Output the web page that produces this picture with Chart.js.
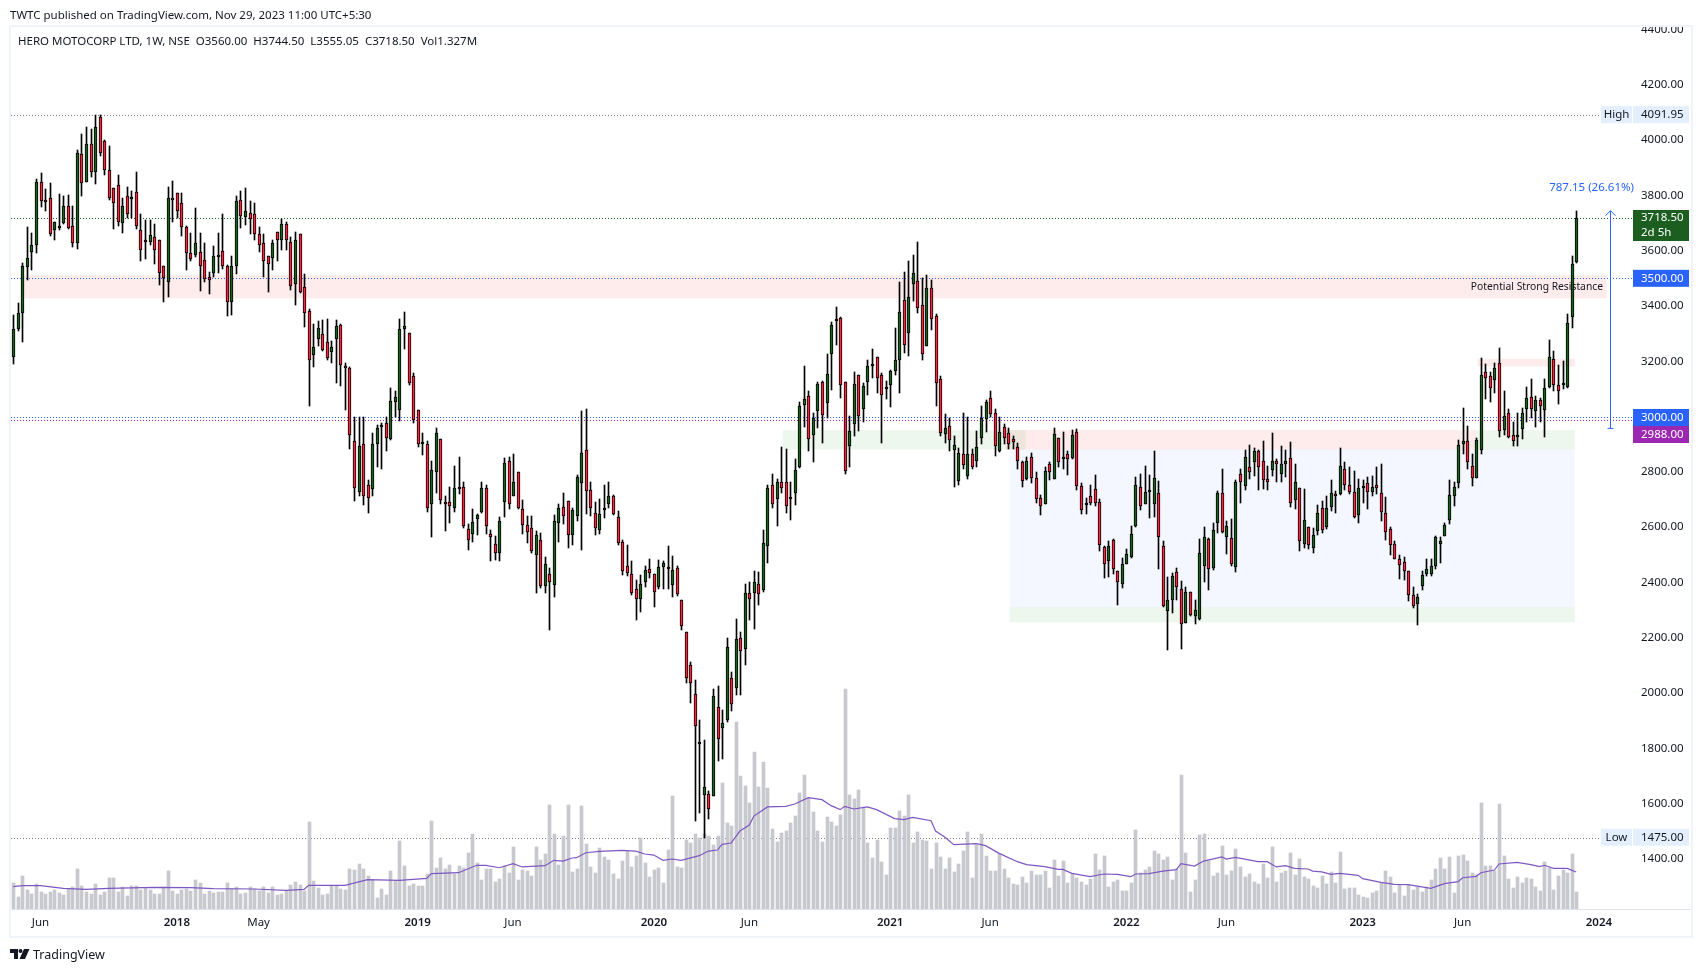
<!DOCTYPE html>
<html><head><meta charset="utf-8">
<style>html,body{margin:0;padding:0;background:#fff}canvas{display:block}</style>
<script src="https://cdn.jsdelivr.net/npm/chart.js@4/dist/chart.umd.min.js"></script>
</head><body><canvas id="c" width="1704" height="972"></canvas>
<script>
const opens=[3216,3316,3375,3541,3596,3622,3850,3785,3789,3675,
3682,3699,3760,3691,3629,3951,3850,3987,3886,4085,
3998,3893,3825,3839,3701,3799,3787,3814,3676,3640,
3632,3651,3637,3546,3488,3792,3810,3774,3687,3593,
3585,3597,3568,3503,3520,3578,3600,3546,3416,3546,
3785,3722,3738,3731,3662,3626,3579,3572,3669,3637,
3695,3633,3481,3662,3467,3383,3224,3279,3300,3268,
3232,3282,3333,3181,3176,2913,2729,2901,2751,2738,
2902,2964,2975,2918,3051,3024,3318,3302,3145,3022,
2902,2902,2682,2801,2918,2692,2692,2669,2747,2747,
2594,2575,2631,2655,2743,2576,2540,2507,2692,2841,
2714,2798,2667,2609,2598,2499,2554,2387,2431,2391,
2616,2674,2696,2573,2642,2758,2878,2736,2652,2591,
2663,2685,2714,2638,2547,2460,2431,2376,2340,2402,
2449,2431,2384,2456,2456,2391,2453,2336,2220,2100,
1995,1817,1631,1635,1628,1951,1875,1904,2053,2017,
2198,2158,2362,2362,2394,2371,2533,2754,2703,2765,
2762,2707,2722,2816,3041,3074,2932,3020,3125,3049,
3228,3347,3356,3125,2894,2973,3150,3027,3125,3183,
3215,3150,3100,3114,3165,3204,3421,3302,3478,3489,
3403,3257,3464,3363,3136,2937,2966,2880,2768,2865,
2786,2865,2840,2923,2991,3067,3013,2876,2962,2941,
2919,2890,2836,2775,2854,2779,2706,2685,2829,2775,
2923,2847,2865,2851,2944,2750,2681,2714,2739,2692,
2530,2479,2555,2443,2396,2468,2493,2604,2746,2685,
2728,2685,2724,2533,2295,2338,2439,2378,2255,2364,
2277,2268,2459,2558,2452,2616,2725,2565,2562,2457,
2791,2749,2816,2834,2876,2838,2774,2807,2838,2791,
2830,2849,2700,2743,2540,2602,2526,2587,2671,2601,
2674,2718,2720,2812,2754,2729,2645,2740,2758,2729,
2754,2725,2653,2595,2540,2486,2475,2442,2354,2321,
2386,2429,2429,2459,2540,2568,2626,2713,2759,2902,
2910,2823,2778,2878,3161,3146,3132,3193,2953,3012,
2932,2927,2954,3029,3070,3019,3059,3023,3106,3208,
3114,3114,3106,3360,3560];
const highs=[3367,3412,3555,3684,3663,3858,3880,3822,3846,3705,
3804,3797,3801,3762,3963,4021,4047,4039,4092,4092,
4000,3978,3825,3873,3790,3829,3815,3883,3731,3711,
3711,3696,3637,3546,3829,3851,3810,3808,3688,3663,
3754,3663,3627,3522,3616,3663,3731,3549,3579,3796,
3815,3826,3779,3774,3684,3660,3579,3638,3669,3714,
3702,3651,3669,3662,3517,3388,3334,3345,3349,3352,
3275,3349,3336,3193,3181,2999,2999,2999,2769,2942,
2969,2978,3000,3105,3094,3352,3380,3302,3159,3024,
2939,2913,2841,2960,2918,2714,2747,2823,2852,2765,
2610,2667,2646,2762,2751,2590,2569,2638,2849,2852,
2863,2798,2700,2642,2642,2587,2580,2493,2453,2645,
2682,2725,2696,2671,2787,3019,3027,2762,2692,2703,
2751,2762,2718,2660,2554,2536,2478,2409,2427,2460,
2485,2431,2482,2478,2533,2496,2460,2336,2220,2111,
2049,1904,1831,1646,2013,2024,1940,2198,2075,2269,
2220,2394,2402,2442,2438,2591,2751,2791,2776,2889,
2881,2762,2845,3052,3184,3092,3013,3125,3128,3226,
3341,3395,3359,3125,3001,3161,3150,3121,3204,3244,
3215,3157,3128,3168,3321,3486,3523,3561,3583,3630,
3500,3511,3494,3370,3147,3009,2995,2930,2887,3013,
3000,2883,2949,3038,3060,3092,3027,3000,2973,2959,
2930,2905,2840,2852,2869,2800,2718,2818,2836,2959,
2923,2944,2876,2952,2955,2761,2706,2753,2789,2703,
2533,2551,2558,2443,2490,2522,2605,2783,2793,2822,
2789,2876,2768,2551,2418,2436,2454,2407,2385,2367,
2335,2556,2602,2562,2616,2730,2812,2622,2631,2769,
2812,2880,2897,2885,2880,2912,2820,2941,2846,2893,
2880,2907,2827,2743,2737,2602,2598,2679,2696,2713,
2770,2732,2886,2834,2816,2803,2774,2770,2781,2786,
2817,2828,2708,2602,2549,2498,2493,2442,2384,2360,
2442,2486,2486,2568,2566,2616,2770,2762,2914,3030,
2967,2863,2921,3212,3191,3161,3193,3248,3093,3026,
2979,3012,3030,3106,3137,3074,3066,3135,3277,3237,
3185,3201,3371,3582,3744.5];
const lows=[3189,3309,3270,3494,3529,3592,3758,3743,3654,3638,
3675,3696,3678,3613,3605,3797,3849,3866,3840,3943,
3873,3784,3678,3690,3664,3720,3720,3678,3562,3569,
3620,3551,3475,3415,3433,3704,3720,3654,3529,3562,
3578,3453,3487,3443,3504,3519,3533,3363,3367,3515,
3681,3692,3660,3639,3594,3504,3450,3529,3564,3602,
3602,3457,3403,3446,3323,3039,3179,3254,3236,3205,
3193,3121,3111,3023,2882,2694,2713,2679,2650,2712,
2817,2810,2876,2914,3000,2984,3244,3115,2976,2889,
2860,2655,2564,2723,2683,2585,2616,2654,2719,2596,
2519,2548,2570,2650,2577,2479,2483,2479,2636,2667,
2711,2665,2574,2543,2507,2363,2380,2363,2229,2348,
2548,2611,2523,2534,2623,2516,2649,2639,2570,2574,
2632,2668,2643,2534,2427,2424,2353,2265,2294,2384,
2416,2312,2376,2376,2376,2348,2352,2229,2037,1963,
1536,1565,1475,1543,1627,1754,1760,1897,1934,1992,
1992,2101,2265,2232,2319,2367,2472,2671,2606,2725,
2650,2625,2679,2815,2964,2874,2837,2960,2906,2996,
3097,3260,3068,2794,2819,2928,2949,2982,3079,3140,
3086,2906,3065,3036,3151,3086,3231,3220,3418,3375,
3205,3255,3314,3039,2931,2906,2874,2747,2751,2812,
2773,2809,2819,2899,2946,3000,2859,2871,2902,2881,
2883,2812,2747,2771,2758,2686,2643,2682,2769,2773,
2819,2809,2787,2847,2733,2646,2646,2679,2675,2513,
2415,2419,2430,2318,2379,2466,2490,2601,2661,2682,
2632,2635,2448,2311,2156,2288,2336,2159,2252,2277,
2249,2265,2403,2374,2445,2580,2580,2503,2459,2437,
2686,2734,2776,2786,2734,2737,2734,2786,2762,2762,
2780,2673,2667,2512,2523,2520,2505,2573,2580,2593,
2657,2650,2717,2735,2719,2633,2614,2689,2665,2713,
2719,2624,2553,2499,2484,2414,2408,2332,2307,2247,
2374,2423,2423,2447,2469,2568,2611,2677,2742,2864,
2810,2749,2778,2866,3062,3054,3086,2927,2933,2922,
2895,2895,2919,2982,2995,2964,2982,2927,3103,3091,
3047,3100,3105,3322,3555.05];
const closes=[3318,3376,3543,3572,3619,3850,3781,3776,3661,3702,
3688,3760,3682,3629,3955,3843,3987,3883,4049,3954,
3890,3791,3773,3705,3763,3733,3793,3690,3603,3632,
3655,3603,3520,3502,3792,3784,3745,3687,3590,3570,
3626,3546,3496,3494,3579,3586,3546,3416,3543,3781,
3727,3742,3713,3662,3619,3561,3553,3626,3637,3695,
3637,3474,3637,3452,3376,3206,3253,3322,3242,3212,
3253,3329,3188,3177,2935,2743,2895,2714,2707,2899,
2957,2964,2921,3058,3069,3315,3326,3123,2988,2902,
2902,2671,2808,2942,2700,2682,2677,2743,2738,2604,
2554,2620,2643,2743,2605,2565,2507,2623,2831,2682,
2765,2669,2609,2583,2513,2573,2386,2467,2402,2623,
2671,2642,2573,2663,2780,2867,2732,2671,2598,2649,
2671,2711,2649,2543,2442,2434,2362,2340,2394,2445,
2434,2365,2456,2471,2449,2445,2358,2242,2053,2038,
1882,1817,1660,1580,1991,1835,1893,2166,1962,2195,
2151,2362,2340,2402,2358,2543,2740,2682,2765,2743,
2678,2703,2805,3038,3063,2919,2995,3118,3006,3154,
3330,3352,3113,2804,2948,3118,3002,3110,3183,3190,
3139,3078,3107,3165,3204,3377,3258,3431,3518,3392,
3226,3464,3352,3121,2941,2959,2916,2898,2869,2825,
2865,2818,2890,2995,3053,3009,2894,2944,2923,2901,
2908,2840,2768,2840,2779,2703,2678,2804,2800,2937,
2836,2851,2847,2934,2750,2663,2681,2688,2688,2537,
2468,2533,2450,2400,2468,2504,2577,2753,2678,2728,
2728,2779,2566,2316,2338,2425,2385,2248,2367,2281,
2302,2507,2566,2449,2591,2722,2584,2605,2465,2763,
2764,2852,2800,2874,2818,2772,2764,2840,2830,2827,
2840,2689,2765,2551,2627,2536,2573,2653,2591,2671,
2725,2711,2823,2754,2728,2638,2740,2743,2729,2747,
2740,2656,2584,2536,2486,2463,2442,2354,2314,2349,
2428,2449,2460,2563,2549,2609,2716,2747,2896,2913,
2834,2778,2914,3150,3138,3105,3175,2947,3001,2927,
2913,2928,3012,3066,3026,3059,3040,3103,3215,3114,
3092,3117,3339,3553,3718.5];
const volumes=[2.03,.94,2.57,1.48,1.17,1.95,1.33,1.17,1.33,1.48,
1.25,1.09,1.56,1.72,3.12,1.79,1.33,1.17,1.95,1.09,
1.33,2.42,2.42,1.33,1.72,1.01,1.79,1.79,1.48,1.64,
1.48,1.17,1.17,1.72,2.96,1.40,1.17,1.48,1.56,1.40,
2.26,2.03,1.17,1.40,1.25,1.33,1.33,2.03,1.56,1.72,
1.17,1.25,1.72,1.56,1.40,1.72,1.25,1.72,1.09,1.17,
1.40,1.87,2.11,1.87,1.40,6.79,2.18,1.64,1.09,1.17,
1.79,1.79,1.56,1.48,3.12,3.04,3.51,3.12,2.57,2.26,
.86,1.56,1.09,2.96,2.18,5.30,3.35,1.79,1.95,1.79,
1.79,2.73,6.86,3.20,3.98,3.12,3.43,2.73,3.35,3.20,
4.37,5.85,3.59,2.26,3.12,3.12,2.11,2.34,3.35,2.81,
4.84,2.26,3.04,2.96,2.57,4.84,3.82,4.29,8.11,5.85,
3.43,5.69,8.11,2.89,3.12,8.03,5.07,3.28,2.81,4.76,
4.06,3.82,2.73,2.34,3.74,4.52,3.28,4.13,5.54,3.59,
2.50,3.04,3.20,2.03,4.60,8.81,3.28,3.20,5.38,5.15,
5.85,5.54,5.85,5.69,4.99,5.69,9.83,6.71,6.47,14.59,
10.37,9.59,8.27,12.25,9.52,11.47,9.44,6.24,5.23,5.93,
6.08,6.71,7.25,9.05,10.45,8.66,7.57,6.08,5.23,7.18,
6.79,6.47,7.33,17.16,8.89,8.58,9.28,7.96,5.15,3.98,
5.38,3.67,2.65,6.32,6.32,7.64,7.25,8.89,5.15,6.01,
5.38,5.30,3.12,5.15,4.06,3.12,3.98,2.89,3.51,4.52,
6.01,2.42,4.99,5.85,4.13,2.96,2.96,4.29,3.12,2.42,
1.95,1.87,2.50,2.03,2.96,2.65,2.65,2.96,1.64,3.82,
2.57,3.74,2.03,2.73,2.42,2.11,1.87,2.34,4.29,3.04,
4.13,1.72,2.11,2.26,1.40,1.40,2.03,6.16,2.81,3.04,
3.28,4.52,4.29,3.82,4.06,2.26,3.12,10.45,4.37,1.33,
2.26,5.77,5.85,3.74,2.57,2.81,4.91,2.65,2.96,4.68,
3.28,2.50,2.73,2.11,1.95,3.51,2.42,4.84,2.11,2.81,
2.96,4.37,2.65,3.90,2.50,2.34,1.79,1.64,2.57,1.95,
2.89,2.03,4.45,1.56,1.64,1.64,1.09,.94,.86,1.25,
1.40,2.03,2.96,2.50,1.25,1.87,1.01,1.87,1.48,1.72,
1.33,1.72,2.26,3.12,3.98,3.12,4.06,1.25,4.13,4.21,
3.74,2.81,2.65,8.27,3.35,3.35,2.96,8.19,4.13,2.34,
1.64,2.50,2.03,2.42,2.34,1.72,1.40,3.67,3.20,1.48,
2.57,3.04,2.81,4.29,1.327];
const maBars=[1,3,7,12,17,22,32,40,45,54,61,65,66,74,79,86,92,93,99,103,105,108,111,113,118,120,122,124,125,127,130,135,138,140,142,144,146,148,152,154,156,157,159,161,163,164,167,171,173,176,179,181,183,184,186,189,191,195,197,199,203,204,206,208,213,215,218,222,224,228,231,232,234,238,241,244,247,248,251,254,257,258,261,263,267,268,270,275,277,279,281,283,286,287,289,291,293,297,298,302,305,308,313,316,319,320,323,324,327,328,332,335,337,338,340,343,345];
const maVals=[1.74,1.82,1.82,1.61,1.53,1.61,1.69,1.66,1.59,1.56,1.46,1.53,1.85,1.85,2.29,2.24,2.39,2.76,2.83,3.41,3.41,3.22,3.54,3.28,3.38,3.80,3.74,3.98,4.00,4.39,4.50,4.58,4.52,4.29,4.21,3.80,3.90,3.80,4.16,4.52,4.60,5.04,5.15,6.11,6.55,7.25,7.96,8.01,8.19,8.68,8.53,8.06,7.75,8.01,7.80,7.96,7.75,7.05,6.97,7.15,6.89,6.08,5.62,5.02,5.10,4.94,4.34,3.69,3.46,3.30,3.09,3.09,2.78,2.52,2.73,2.70,2.52,2.73,2.76,2.96,3.07,3.54,3.35,3.74,4.06,3.90,4.03,3.69,3.69,3.28,3.38,3.17,3.12,2.96,2.89,2.70,2.78,2.63,2.37,2.08,1.92,1.90,1.61,1.98,2.13,2.44,2.55,2.83,3.04,3.51,3.64,3.46,3.30,3.41,3.17,3.17,2.89];
const tickBars=[6,36,54,89,110,141,162,193,215,245,267,297,319,349];
const tickTexts=['Jun','2018','May','2019','Jun','2020','Jun','2021','Jun','2022','Jun','2023','Jun','2024'];
const priceTicks=[1400,1600,1800,2000,2200,2400,2600,2800,3000,3200,3400,3600,3800,4000,4200,4400];
const SLOTS=357;
const categories=Array.from({length:SLOTS},()=> '');
tickBars.forEach((b,k)=>{categories[b]=tickTexts[k];});
const maSeries=opens.map(()=>null);
maBars.forEach((b,k)=>{maSeries[b-1]=maVals[k];});

const UP='#1b5e20',DOWN='#f7253e',FONT='"Noto Sans",sans-serif',INK='#131722',SZ='11.5px ';
const RED='rgba(242,54,69,0.10)',GREEN='rgba(76,175,80,0.10)',BLUE='rgba(41,98,255,0.05)';
// zones: from bar, to bar, upper price, lower price
const zoneFrom=[2.35,169.4,218.4,219.3,219.3,322,322.3];
const zoneTo=[350.7,222.8,322,343.7,343.7,343.7,343.7];
const zoneTop=[3511,2951,2951,2880,2311,2951,3209];
const zoneBottom=[3428,2881,2880,2311,2256,2880,3181];
const zoneColors=[RED,GREEN,RED,BLUE,GREEN,GREEN,RED];
// horizontal dotted price levels
const levelPrices=[4091.95,3718.5,3500,3000,2988,1475];
const levelColors=['#787b86','#1b5e20','#2962ff','#2962ff','#9c27b0','#787b86'];

// keep the bars on whole pixels so wicks and borders stay crisp
const drawBar=Chart.BarElement.prototype.draw;
Chart.BarElement.prototype.draw=function(ctx){
  const {x,y,base}=this;
  this.x=Math.round(x)+.5;this.y=Math.round(y);this.base=Math.round(base);
  drawBar.call(this,ctx);
  this.x=x;this.y=y;this.base=base;
};

const overlays={id:'overlays',
 beforeDatasetsDraw(ch){
  const g=ch.ctx,x=ch.scales.x,y=ch.scales.y,a=ch.chartArea;
  g.save();
  zoneFrom.forEach((f,k)=>{
    const l=x.getPixelForValue(f),r=x.getPixelForValue(zoneTo[k]);
    const t=y.getPixelForValue(zoneTop[k]),b=y.getPixelForValue(zoneBottom[k]);
    g.fillStyle=zoneColors[k];g.fillRect(l,t,r-l,b-t);
  });
  g.lineWidth=1;g.setLineDash([1,2]);
  levelPrices.forEach((p,k)=>{
    const py=Math.round(y.getPixelForValue(p))+.5;
    g.strokeStyle=levelColors[k];g.beginPath();g.moveTo(a.left,py);g.lineTo(a.right,py);g.stroke();
  });
  g.setLineDash([]);
  g.fillStyle=INK;g.font='10.3px '+FONT;g.textBaseline='middle';g.textAlign='right';
  g.fillText('Potential Strong Resistance',1603,y.getPixelForValue(3469));
  g.restore();
 },
 afterDraw(ch){
  const g=ch.ctx,x=ch.scales.x,y=ch.scales.y;
  g.save();
  // frame
  g.strokeStyle='#f0f3fa';g.lineWidth=2;g.strokeRect(10,26,1682,911);
  g.strokeStyle='#e0e3eb';g.lineWidth=1;g.beginPath();g.moveTo(11,909.5);g.lineTo(1691,909.5);g.stroke();
  // measure arrow
  const ax=Math.round(x.getPixelForValue(351.4))+.5,t=y.getPixelForValue(3744.5),b=y.getPixelForValue(2957.35);
  g.strokeStyle='#2962ff';g.lineWidth=1;g.beginPath();g.moveTo(ax,t);g.lineTo(ax,b);
  g.moveTo(ax-3,b);g.lineTo(ax+3,b);g.moveTo(ax-5,t+5);g.lineTo(ax,t);g.lineTo(ax+5,t+5);g.stroke();
  g.textBaseline='middle';g.font=SZ+FONT;
  g.fillStyle='#2962ff';g.textAlign='right';g.fillText('787.15 (26.61%)',1634,188);
  // axis badges
  const badge=(cy,h,fill,txt,col,txt2)=>{
    g.fillStyle=fill;g.fillRect(1633,cy,56,h);
    g.fillStyle=col;g.textAlign='left';g.font=SZ+FONT;
    g.fillText(txt,1641,txt2?cy+8:cy+h/2+.5);
    if(txt2){g.fillText(txt2,1641,cy+23);}
  };
  const side=(cy,txt)=>{g.fillStyle='#e3effd';g.fillRect(1601,cy,31,17);g.fillStyle=INK;g.textAlign='center';g.font=SZ+FONT;g.fillText(txt,1616.5,cy+9);};
  side(y.getPixelForValue(4091.95)-8.5,'High');
  badge(y.getPixelForValue(4091.95)-8.5,17,'#e3effd','4091.95',INK);
  side(y.getPixelForValue(1475)-9.5,'Low');
  badge(y.getPixelForValue(1475)-9.5,17,'#e3effd','1475.00',INK);
  badge(210,31,UP,'3718.50','#fff','2d 5h');
  badge(y.getPixelForValue(3500)-8.5,17,'#2962ff','3500.00','#fff');
  badge(409,17,'#2962ff','3000.00','#fff');
  badge(426,17,'#9c27b0','2988.00','#fff');
  // header + footer
  g.fillStyle=INK;g.textAlign='left';g.font=SZ+FONT;
  g.fillText('TWTC published on TradingView.com, Nov 29, 2023 11:00 UTC+5:30',10,15.5);
  g.fillText('HERO MOTOCORP LTD, 1W, NSE  O3560.00  H3744.50  L3555.05  C3718.50  Vol1.327M',18,42);
  g.font='12.5px '+FONT;g.fillText('TradingView',33,955);
  // logo
  g.fillStyle='#131722';
  g.fillRect(10,949,8,4);g.fillRect(14,949,4,10);
  g.beginPath();g.arc(20.5,951,2,0,7);g.fill();
  g.beginPath();g.moveTo(24,949);g.lineTo(29.5,949);g.lineTo(25,959);g.lineTo(19.5,959);g.closePath();g.fill();
  g.restore();
 }
};

new Chart(document.getElementById('c'),{
 type:'bar',
 data:{labels:categories,datasets:[
  {label:'Volume',data:volumes,yAxisID:'v',backgroundColor:'#c8c9ce',barThickness:3,grouped:false,order:5},
  {type:'line',label:'Volume MA',data:maSeries,yAxisID:'v',borderColor:'#7e57c2',borderWidth:1.2,pointRadius:0,spanGaps:true,tension:0,order:4},
  {label:'Range',data:lows.map((l,i)=>[l,highs[i]]),yAxisID:'y',backgroundColor:'#000',barThickness:1,grouped:false,order:2},
  {label:'Body',data:opens.map((o,i)=>[o,closes[i]]),yAxisID:'y',
   backgroundColor:opens.map((o,i)=>closes[i]>=o?UP:DOWN),borderColor:'#000',borderWidth:1,borderSkipped:false,
   barThickness:3,grouped:false,minBarLength:2,order:1}
 ]},
 options:{responsive:false,animation:false,devicePixelRatio:1,
  layout:{padding:{left:11,top:27,right:12,bottom:35}},
  plugins:{legend:{display:false},tooltip:{enabled:false}},
  scales:{
   x:{type:'category',offset:true,grid:{display:false,drawTicks:false},border:{display:false},
      afterFit(s){s.height=28;},
      ticks:{autoSkip:false,maxRotation:0,minRotation:0,padding:7,color:INK,
             font:c=>({family:FONT,size:11.5,weight:/^\d/.test(c.tick&&c.tick.label||'')?'600':'400'})}},
   y:{position:'right',min:1219,max:4409,grid:{display:false,drawTicks:false},border:{display:false},
      afterFit(s){s.width=59;},
      afterBuildTicks(s){s.ticks=priceTicks.map(v=>({value:v}));},
      ticks:{padding:8,color:INK,font:{family:FONT,size:11.5},callback:v=>Number(v).toFixed(2)}},
   v:{display:false,min:0,max:68.8}
  }},
 plugins:[overlays]
});
</script></body></html>
